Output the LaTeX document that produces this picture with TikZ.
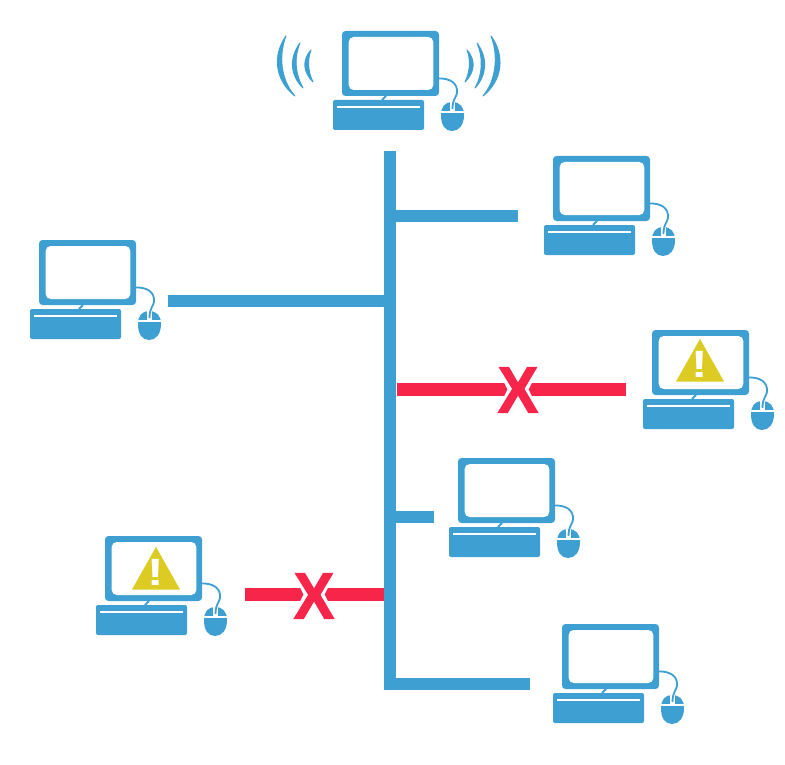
\documentclass[tikz,border=0pt]{standalone}
\usepackage{fontspec}
\setmainfont{Liberation Sans}
\newfontfamily\heavyfont[UprightFont=* Bold,FakeBold=1.5]{Liberation Sans}
\definecolor{netblue}{HTML}{3E9FD2}
\definecolor{alertred}{HTML}{F8254A}
\definecolor{warnyellow}{HTML}{DCCB22}
\tikzset{
  wire/.style={draw=netblue,line width=12pt},
  brokenwire/.style={draw=alertred,line width=13pt},
  cable/.style={draw=netblue,line width=1.8pt},
  wave/.style={fill=netblue,draw=netblue,line width=1pt,line join=round},
  crossmark/.style={text=alertred,xscale=.93,font=\heavyfont\fontsize{66}{66}\selectfont,inner sep=0pt},
  bangmark/.style={text=white,xscale=1.3,font=\bfseries\fontsize{38}{38}\selectfont,inner sep=0pt},
  computer/.pic={
    % monitor with its stand
    \fill[netblue,rounded corners=3.5pt] (0,0) rectangle (97,65);
    \fill[white,rounded corners=5pt] (6.7,6) rectangle (91.3,59);
    \draw[netblue,line width=1.8pt] (44,65) -- (40,69);
    % keyboard
    \fill[netblue,rounded corners=2pt] (-9,69) rectangle (82,99);
    \draw[white,line width=1.3pt] (-5,76) -- (78,76);
    % mouse and its cable
    \fill[netblue] (110,71) .. controls (118,71) and (122,76) .. (122,84)
      .. controls (122,94) and (117,100) .. (110,100)
      .. controls (103,100) and (99,94) .. (99,84)
      .. controls (99,76) and (103,71) .. (110,71) -- cycle;
    \draw[white,line width=1.5pt] (98,81) -- (123,81);
    \fill[white] (107.7,69) rectangle (113.3,81);
    \draw[cable] (96,47.5) .. controls (108,47) and (116,52) .. (115,62)
      .. controls (114.5,66) and (110.5,68) .. (110.5,78);
  },
  warnsign/.pic={
    \fill[warnyellow] (48,9) -- (72,51.5) -- (24,51.5) -- cycle;
    \node[bangmark] (-bang) at (48,34) {!};
  },
}
\begin{document}
\begin{tikzpicture}[x=1pt,y=-1pt]
  \useasboundingbox (0,0) rectangle (785,765);

  % stations
  \pic (top) at (342,31) {computer};
  \pic (upright) at (553,156) {computer};
  \pic (left) at (39,240) {computer};
  \pic (failright) at (652,330) {computer};
  \pic (failrightsign) at (652,330) {warnsign};
  \pic (mid) at (458,458) {computer};
  \pic (failleft) at (105,536) {computer};
  \pic (failleftsign) at (108,538) {warnsign};
  \pic (low) at (562,624) {computer};

  % radio waves round the top station
  \path[wave] (286,36) .. controls (272.5,55) and (274.5,80) .. (295,96)
                       .. controls (280.5,80) and (278.5,55) .. cycle;
  \path[wave] (300,43) .. controls (289,58) and (290,75) .. (303,88)
                       .. controls (295.5,75) and (293.5,58) .. cycle;
  \path[wave] (311,50) .. controls (302,60) and (303,72) .. (313,82)
                       .. controls (308,72) and (307,60) .. cycle;
  \path[wave] (491,36) .. controls (505,55) and (503,80) .. (483,96)
                       .. controls (496.5,80) and (498.5,55) .. cycle;
  \path[wave] (477,43) .. controls (488,58) and (487,75) .. (475,88)
                       .. controls (482.5,75) and (483.5,58) .. cycle;
  \path[wave] (467,50) .. controls (476,60) and (475,72) .. (465,82)
                       .. controls (470,72) and (471,60) .. cycle;

  % bus and the end points of its branches
  \coordinate (busTop) at (390,151);
  \coordinate (busEnd) at (390,690);
  \coordinate (tapA) at (396,216);  \coordinate (endA) at (518,216);
  \coordinate (tapB) at (384,300.5);\coordinate (endB) at (168,300.5);
  \coordinate (tapC) at (396,517);  \coordinate (endC) at (434,517);
  \coordinate (tapD) at (396,684);  \coordinate (endD) at (530,684);
  \coordinate (tapE) at (397,389.5);\coordinate (endE) at (626,389.5);
  \coordinate (tapF) at (384,594.5);\coordinate (endF) at (245,594.5);

  \draw[wire] (busTop) -- (busEnd);
  \draw[wire] (tapA) -- (endA);
  \draw[wire] (tapB) -- (endB);
  \draw[wire] (tapC) -- (endC);
  \draw[wire] (tapD) -- (endD);
  \draw[brokenwire] (tapE) -- (endE);
  \draw[brokenwire] (tapF) -- (endF);

  % breaks in the failed links, notched to follow the arms of the cross
  \fill[white] (504,382.5) -- (532,382.5) -- (528.5,389.5) -- (532,396.5)
    -- (504,396.5) -- (507.5,389.5) -- cycle;
  \node[crossmark] (breakE) at (518,390) {X};
  \fill[white] (300,587.5) -- (328,587.5) -- (324.5,594.5) -- (328,601.5)
    -- (300,601.5) -- (303.5,594.5) -- cycle;
  \node[crossmark] (breakF) at (314,596) {X};
\end{tikzpicture}
\end{document}
